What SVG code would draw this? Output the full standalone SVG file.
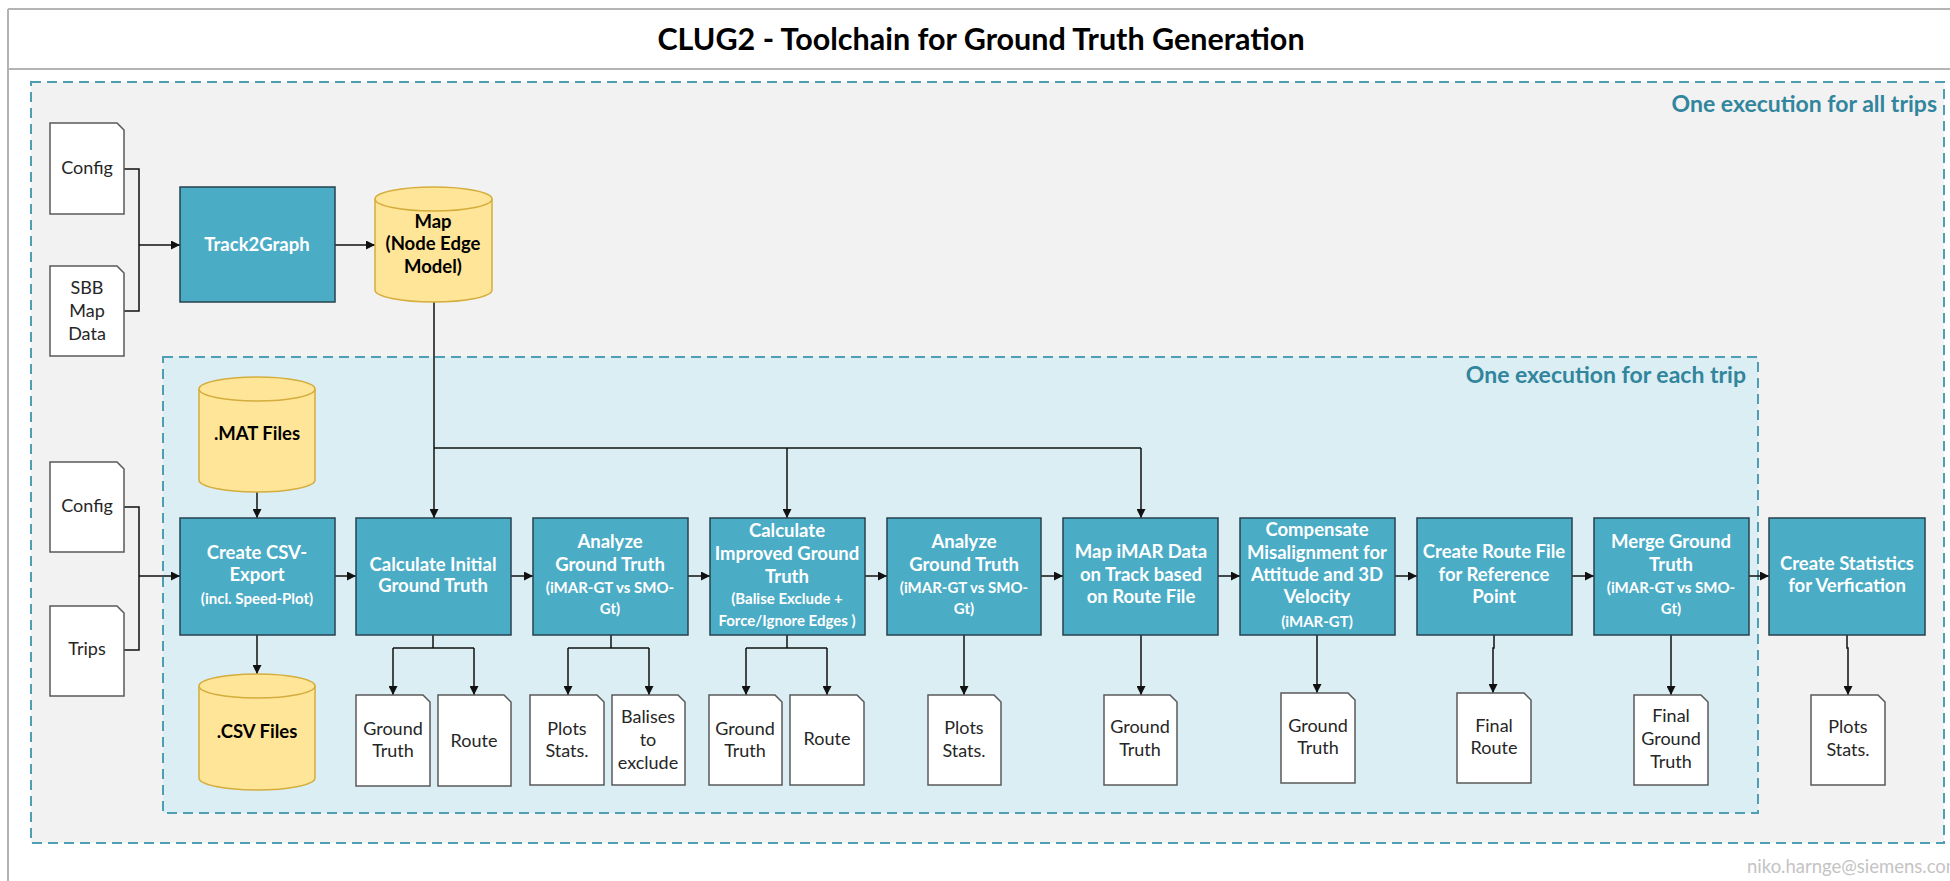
<svg xmlns="http://www.w3.org/2000/svg" width="1950" height="881" viewBox="0 0 1950 881">
<defs>
<marker id="ah" viewBox="0 0 10 10" refX="10" refY="5" markerWidth="9" markerHeight="9" markerUnits="userSpaceOnUse" orient="auto">
<path d="M0,0 L10,5 L0,10 Z" fill="#111"/>
</marker>
<style>
text{font-family:Lato,"Open Sans","Liberation Sans",sans-serif;text-anchor:middle}
.frame{stroke:#b4b4b4;stroke-width:2;fill:none}
.title{font-size:30.5px;font-weight:bold;fill:#000}
.zone{font-size:23px;font-weight:bold;fill:#31859c;text-anchor:end}
.outer{fill:#f2f2f2;stroke:#4f9fb4;stroke-width:2;stroke-dasharray:10 6}
.inner{fill:#dbeef4;stroke:#4f9fb4;stroke-width:2;stroke-dasharray:10 6}
.proc rect{fill:#4bacc6;stroke:#27424d;stroke-width:1.5}
.proc text{font-size:18.5px;font-weight:bold;fill:#fff}
.proc text.s{font-size:15px}
.doc path{fill:#fff;stroke:#595959;stroke-width:1.5}
.doc text{font-size:18px;fill:#262626}
.db path{fill:#ffe598;stroke:#d4ad3c;stroke-width:1.5}
.db text{font-size:18.5px;font-weight:bold;fill:#000}
.conn path{fill:none;stroke:#111;stroke-width:1.5}
.mail{font-size:18.5px;fill:#c4c4c4;text-anchor:start}
</style>
</defs>
<rect x="0" y="0" width="1950" height="881" fill="#fff"/>
<g id="frame">
<line class="frame" x1="8" y1="9" x2="1950" y2="9"/>
<line class="frame" x1="8" y1="69" x2="1950" y2="69"/>
<line class="frame" x1="8" y1="9" x2="8" y2="881"/>
<text class="title" x="981" y="50">CLUG2 - Toolchain for Ground Truth Generation</text>
</g>
<g id="zone-all">
<rect class="outer" x="31" y="82" width="1913" height="761"/>
<text class="zone" x="1937" y="112">One execution for all trips</text>
</g>
<g id="zone-trip">
<rect class="inner" x="163" y="357" width="1595" height="456"/>
<text class="zone" x="1746" y="383">One execution for each trip</text>
</g>

<g class="conn" id="connectors">
<path d="M124,169 H139 V311 H124"/>
<path d="M139,245 H180" marker-end="url(#ah)"/>
<path d="M335,245 H375" marker-end="url(#ah)"/>
<path d="M434,302 V518" marker-end="url(#ah)"/>
<path d="M434,448 H1141"/>
<path d="M787,448 V518" marker-end="url(#ah)"/>
<path d="M1141,448 V518" marker-end="url(#ah)"/>
<path d="M124,507 H139 V650 H124"/>
<path d="M139,576 H180" marker-end="url(#ah)"/>
<path d="M257,492 V518" marker-end="url(#ah)"/>
<path d="M257,635 V674" marker-end="url(#ah)"/>
<path d="M335,576 H356" marker-end="url(#ah)"/>
<path d="M511,576 H533" marker-end="url(#ah)"/>
<path d="M688,576 H710" marker-end="url(#ah)"/>
<path d="M865,576 H887" marker-end="url(#ah)"/>
<path d="M1041,576 H1063" marker-end="url(#ah)"/>
<path d="M1218,576 H1240" marker-end="url(#ah)"/>
<path d="M1395,576 H1417" marker-end="url(#ah)"/>
<path d="M1572,576 H1594" marker-end="url(#ah)"/>
<path d="M1749,576 H1769" marker-end="url(#ah)"/>
<path d="M433,635 V648"/>
<path d="M393,648 H474"/>
<path d="M393,648 V695" marker-end="url(#ah)"/>
<path d="M474,648 V695" marker-end="url(#ah)"/>
<path d="M611,635 V648"/>
<path d="M568,648 H649"/>
<path d="M568,648 V695" marker-end="url(#ah)"/>
<path d="M649,648 V695" marker-end="url(#ah)"/>
<path d="M787,635 V648"/>
<path d="M746,648 H827"/>
<path d="M746,648 V695" marker-end="url(#ah)"/>
<path d="M827,648 V695" marker-end="url(#ah)"/>
<path d="M964,635 V695" marker-end="url(#ah)"/>
<path d="M1141,635 V695" marker-end="url(#ah)"/>
<path d="M1317,635 V693" marker-end="url(#ah)"/>
<path d="M1494,635 V648 H1493 V693" marker-end="url(#ah)"/>
<path d="M1671,635 V695" marker-end="url(#ah)"/>
<path d="M1847,635 V648 H1848 V695" marker-end="url(#ah)"/>
</g>

<g class="doc" id="doc-config1"><path d="M50,123 H117 L124,130 V214 H50 Z"/><text x="87" y="174">Config</text></g>
<g class="doc" id="doc-sbb"><path d="M50,266 H117 L124,273 V356 H50 Z"/><text x="87" y="294">SBB</text><text x="87" y="317">Map</text><text x="87" y="340">Data</text></g>
<g class="doc" id="doc-config2"><path d="M50,462 H117 L124,469 V552 H50 Z"/><text x="87" y="512">Config</text></g>
<g class="doc" id="doc-trips"><path d="M50,606 H117 L124,613 V696 H50 Z"/><text x="87" y="655">Trips</text></g>

<g class="proc" id="track2graph"><rect x="180" y="187" width="155" height="115"/><text x="257" y="251">Track2Graph</text></g>

<g class="db" id="db-map"><path d="M375,199 A58.5,12 0 0 1 492,199 V290 A58.5,12 0 0 1 375,290 Z"/><path d="M375,199 A58.5,12 0 0 0 492,199"/><text x="433" y="228">Map</text><text x="433" y="250">(Node Edge</text><text x="433" y="273">Model)</text></g>
<g class="db" id="db-mat"><path d="M199,389 A58,12 0 0 1 315,389 V480 A58,12 0 0 1 199,480 Z"/><path d="M199,389 A58,12 0 0 0 315,389"/><text x="257" y="440">.MAT Files</text></g>
<g class="db" id="db-csv"><path d="M199,686 A58,12 0 0 1 315,686 V778 A58,12 0 0 1 199,778 Z"/><path d="M199,686 A58,12 0 0 0 315,686"/><text x="257" y="738">.CSV Files</text></g>

<g class="proc" id="p-csv"><rect x="180" y="518" width="155" height="117"/><text x="257" y="559">Create CSV-</text><text x="257" y="581">Export</text><text class="s" x="257" y="604">(incl. Speed-Plot)</text></g>
<g class="proc" id="p-init"><rect x="356" y="518" width="155" height="117"/><text x="433" y="571">Calculate Initial</text><text x="433" y="592">Ground Truth</text></g>
<g class="proc" id="p-analyze1"><rect x="533" y="518" width="155" height="117"/><text x="610" y="548">Analyze</text><text x="610" y="571">Ground Truth</text><text class="s" x="610" y="593">(iMAR-GT vs SMO-</text><text class="s" x="610" y="614">Gt)</text></g>
<g class="proc" id="p-improved"><rect x="710" y="518" width="155" height="117"/><text x="787" y="537">Calculate</text><text x="787" y="560">Improved Ground</text><text x="787" y="583">Truth</text><text class="s" x="787" y="604">(Balise Exclude +</text><text class="s" x="787" y="626">Force/Ignore Edges )</text></g>
<g class="proc" id="p-analyze2"><rect x="887" y="518" width="154" height="117"/><text x="964" y="548">Analyze</text><text x="964" y="571">Ground Truth</text><text class="s" x="964" y="593">(iMAR-GT vs SMO-</text><text class="s" x="964" y="614">Gt)</text></g>
<g class="proc" id="p-mapimar"><rect x="1063" y="518" width="155" height="117"/><text x="1141" y="558">Map iMAR Data</text><text x="1141" y="581">on Track based</text><text x="1141" y="603">on Route File</text></g>
<g class="proc" id="p-compensate"><rect x="1240" y="518" width="155" height="117"/><text x="1317" y="536">Compensate</text><text x="1317" y="559">Misalignment for</text><text x="1317" y="581">Attitude and 3D</text><text x="1317" y="603">Velocity</text><text class="s" x="1317" y="627">(iMAR-GT)</text></g>
<g class="proc" id="p-routefile"><rect x="1417" y="518" width="155" height="117"/><text x="1494" y="558">Create Route File</text><text x="1494" y="581">for Reference</text><text x="1494" y="603">Point</text></g>
<g class="proc" id="p-merge"><rect x="1594" y="518" width="155" height="117"/><text x="1671" y="548">Merge Ground</text><text x="1671" y="571">Truth</text><text class="s" x="1671" y="593">(iMAR-GT vs SMO-</text><text class="s" x="1671" y="614">Gt)</text></g>
<g class="proc" id="p-stats"><rect x="1769" y="518" width="156" height="117"/><text x="1847" y="570">Create Statistics</text><text x="1847" y="592">for Verfication</text></g>

<g class="doc" id="doc-gt1"><path d="M356,695 H423 L430,702 V786 H356 Z"/><text x="393" y="735">Ground</text><text x="393" y="757">Truth</text></g>
<g class="doc" id="doc-route1"><path d="M438,695 H504 L511,702 V786 H438 Z"/><text x="474" y="747">Route</text></g>
<g class="doc" id="doc-plots1"><path d="M530,695 H597 L604,702 V785 H530 Z"/><text x="567" y="735">Plots</text><text x="567" y="757">Stats.</text></g>
<g class="doc" id="doc-balises"><path d="M612,695 H678 L685,702 V785 H612 Z"/><text x="648" y="723">Balises</text><text x="648" y="746">to</text><text x="648" y="769">exclude</text></g>
<g class="doc" id="doc-gt2"><path d="M709,695 H775 L782,702 V785 H709 Z"/><text x="745" y="735">Ground</text><text x="745" y="757">Truth</text></g>
<g class="doc" id="doc-route2"><path d="M790,695 H857 L864,702 V785 H790 Z"/><text x="827" y="745">Route</text></g>
<g class="doc" id="doc-plots2"><path d="M928,695 H994 L1001,702 V785 H928 Z"/><text x="964" y="734">Plots</text><text x="964" y="757">Stats.</text></g>
<g class="doc" id="doc-gt3"><path d="M1104,695 H1170 L1177,702 V785 H1104 Z"/><text x="1140" y="733">Ground</text><text x="1140" y="756">Truth</text></g>
<g class="doc" id="doc-gt4"><path d="M1281,693 H1348 L1355,700 V783 H1281 Z"/><text x="1318" y="732">Ground</text><text x="1318" y="754">Truth</text></g>
<g class="doc" id="doc-finalroute"><path d="M1457,693 H1524 L1531,700 V783 H1457 Z"/><text x="1494" y="732">Final</text><text x="1494" y="754">Route</text></g>
<g class="doc" id="doc-finalgt"><path d="M1634,695 H1701 L1708,702 V785 H1634 Z"/><text x="1671" y="722">Final</text><text x="1671" y="745">Ground</text><text x="1671" y="768">Truth</text></g>
<g class="doc" id="doc-plots3"><path d="M1811,695 H1878 L1885,702 V785 H1811 Z"/><text x="1848" y="733">Plots</text><text x="1848" y="756">Stats.</text></g>

<text class="mail" x="1747" y="873">niko.harnge@siemens.com</text>
</svg>
